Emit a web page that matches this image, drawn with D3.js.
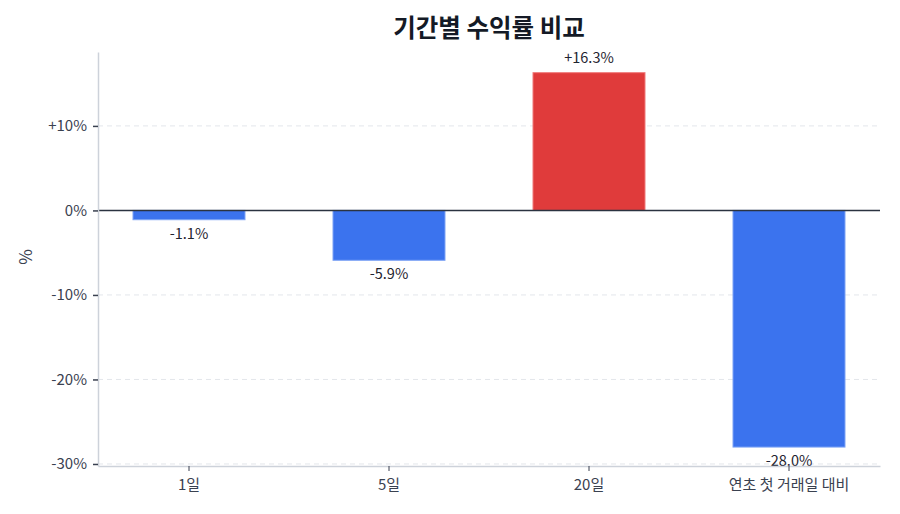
<!DOCTYPE html>
<head>
  <meta charset="utf-8">
  <script src="https://d3js.org/d3.v7.min.js"></script>
  <style>
    body { margin: 0; background: #fff; font-family: "Noto Sans CJK KR", "Noto Sans", sans-serif; }
    svg { display: block; }
    .tick text { font-size: 15px; fill: #3a4150; font-family: "Noto Sans CJK KR", "Noto Sans", sans-serif; }
  </style>
</head>
<body>
  <svg width="900" height="514"></svg>
  <script>
    var periods = ['1일', '5일', '20일', '연초 첫 거래일 대비'];
    var returns = [-1.1, -5.9, 16.3, -28.0];
    var yTicks = [-30, -20, -10, 0, 10];

    var margin = {top: 52, right: 20, bottom: 48, left: 98};
    var width = 900 - margin.left - margin.right;
    var height = 514 - margin.top - margin.bottom;

    var svg = d3.select('svg');
    var g = svg.append('g')
      .attr('transform', 'translate(' + [margin.left, margin.top] + ')');

    var x = d3.scaleBand()
      .domain(periods)
      .range([0, width])
      .paddingInner(0.44)
      .paddingOuter(0.175);

    var y = d3.scaleLinear()
      .domain([d3.min(returns) * 1.08, d3.max(returns) * 1.15])
      .range([height, 0]);

    function tickFmt(v) {
      return (v > 0 ? '+' : '') + v + '%';
    }
    function valFmt(v) {
      return (v > 0 ? '+' : '') + v.toFixed(1) + '%';
    }

    // gridlines
    g.append('g')
      .selectAll('line')
      .data(yTicks.filter(function(d) { return d !== 0; }))
      .enter().append('line')
      .attr('x1', 0).attr('x2', width)
      .attr('y1', function(d) { return y(d); })
      .attr('y2', function(d) { return y(d); })
      .attr('stroke', '#e3e6eb')
      .attr('stroke-dasharray', '5,4');

    // bars
    g.selectAll('rect.bar')
      .data(returns).enter().append('rect')
      .classed('bar', true)
      .attr('x', function(d, i) { return x(periods[i]); })
      .attr('width', x.bandwidth())
      .attr('y', function(d) { return y(Math.max(0, d)); })
      .attr('height', function(d) { return Math.abs(y(d) - y(0)); })
      .attr('fill', function(d) { return d >= 0 ? '#e03b3b' : '#3b73ee'; })
      .attr('stroke', function(d) { return d >= 0 ? '#f07a7a' : '#7ea4f5'; })
      .attr('stroke-width', 1);

    // value labels
    g.selectAll('text.val')
      .data(returns).enter().append('text')
      .classed('val', true)
      .attr('x', function(d, i) { return x(periods[i]) + x.bandwidth() / 2; })
      .attr('y', function(d) { return d >= 0 ? y(d) - 10 : y(d) + 19; })
      .attr('text-anchor', 'middle')
      .style('font-size', '14.5px')
      .style('fill', '#1f2430')
      .text(valFmt);

    // zero line
    g.append('line')
      .attr('x1', 0).attr('x2', width)
      .attr('y1', y(0)).attr('y2', y(0))
      .attr('stroke', '#2b3340')
      .attr('stroke-width', 1.5);

    // axes
    var yAxis = g.append('g')
      .call(d3.axisLeft(y).tickValues(yTicks).tickFormat(tickFmt)
        .tickSizeInner(5).tickSizeOuter(0).tickPadding(6))
      .attr('font-family', null).attr('font-size', null);
    yAxis.select('.domain').attr('stroke', '#cdd2da').attr('stroke-width', 1.5);
    yAxis.selectAll('.tick line').attr('stroke', '#3a4150').attr('stroke-width', 1.5);

    var xAxis = g.append('g')
      .attr('transform', 'translate(0,' + height + ')')
      .call(d3.axisBottom(x).tickSizeInner(5).tickSizeOuter(0).tickPadding(8))
      .attr('font-family', null).attr('font-size', null);
    xAxis.select('.domain').attr('stroke', '#cdd2da').attr('stroke-width', 1.5);
    xAxis.selectAll('.tick line').attr('stroke', '#3a4150');

    // y label
    svg.append('text')
      .attr('transform', 'translate(32,' + (margin.top + y(-5.5)) + ')rotate(-90)')
      .attr('text-anchor', 'middle')
      .style('font-size', '17px')
      .style('fill', '#3a4150')
      .text('%');

    // title
    svg.append('text')
      .attr('x', 489)
      .attr('y', 37)
      .attr('text-anchor', 'middle')
      .style('font-size', '24.5px')
      .style('font-weight', 'bold')
      .style('fill', '#141a26')
      .text('기간별 수익률 비교');
  </script>
</body>
